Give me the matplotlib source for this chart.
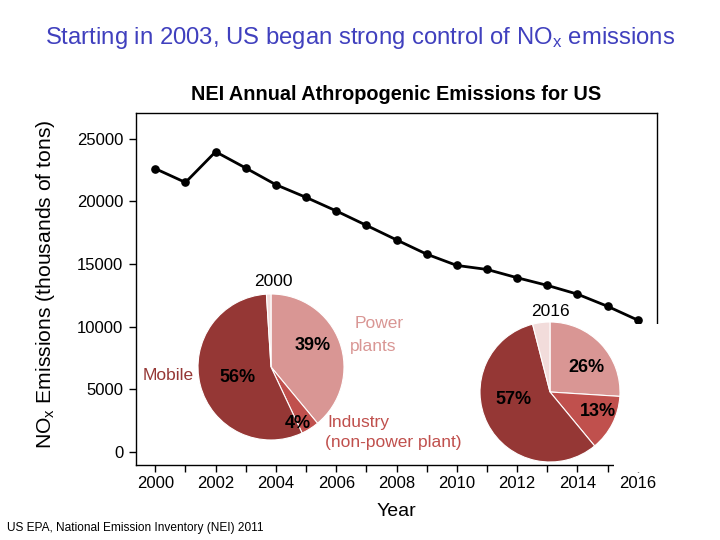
import matplotlib
matplotlib.use("Agg")
import matplotlib.pyplot as plt
from matplotlib.patches import Rectangle

plt.rcParams['font.family'] = ['Liberation Sans', 'DejaVu Sans']
plt.rcParams['mathtext.default'] = 'regular'

# ---- data ----
years = [2000, 2001, 2002, 2003, 2004, 2005, 2006, 2007, 2008,
         2009, 2010, 2011, 2012, 2013, 2014, 2015, 2016]
emissions = [22600, 21500, 23950, 22650, 21320, 20310, 19230, 18080, 16920,
             15780, 14880, 14560, 13900, 13290, 12590, 11620, 10520]
sectors = ['Power plants', 'Industry', 'Mobile', 'Other']
share_2000 = [39, 4, 56, 1]
share_2016 = [26, 13, 57, 4]
sector_colors = ['#D99694', '#C0504D', '#953735', '#F2DCDB']
y_ticks = [0, 5000, 10000, 15000, 20000, 25000]
x_label_years = [2000, 2002, 2004, 2006, 2008, 2010, 2012, 2014, 2016]

W, H = 720, 540
fig = plt.figure(figsize=(7.2, 5.4), dpi=100)


def fx(x):
    return x / W


def fy(y):
    return 1 - y / H


# ---- main axes ----
ax = fig.add_axes([fx(136), fy(465), fx(657) - fx(136), fy(113) - fy(465)])
ax.plot(years, emissions, color='black', lw=2.0, marker='o', ms=5.2, zorder=3)
ax.set_xlim(1999.36, 2016.64)
ax.set_ylim(-1040, 27040)
ax.set_yticks(y_ticks)
ax.set_yticklabels([str(v) for v in y_ticks])
ax.set_xticks(years)
ax.set_xticklabels([str(y) if y in x_label_years else '' for y in years])
ax.tick_params(axis='both', direction='out', length=5, width=1, labelsize=12,
               color='black')
ax.tick_params(axis='x', pad=3)
ax.tick_params(axis='y', pad=4)
for s in ax.spines.values():
    s.set_linewidth(1.0)
    s.set_color('black')
ax.set_ylabel('NO$_x$ Emissions (thousands of tons)', fontsize=15.2)
ax.yaxis.set_label_coords(-0.152, 0.514)

# white cover behind the 2016 pie (as in the reference image)
fig.patches.append(Rectangle((fx(614), fy(472)), fx(700) - fx(614), fy(324) - fy(472),
                             transform=fig.transFigure, facecolor='white',
                             edgecolor='none', zorder=2))

# ---- titles / texts ----
fig.text(fx(360), fy(38), 'Starting in 2003, US began strong control of NO$_x$ emissions',
         ha='center', va='center', fontsize=17.2, color='#4040BE')
fig.text(fx(396), fy(94), 'NEI Annual Athropogenic Emissions for US',
         ha='center', va='center', fontsize=14.3, fontweight='bold', color='black')
fig.text(fx(396), fy(512), 'Year', ha='center', va='center', fontsize=14)
fig.text(fx(7), fy(528), 'US EPA, National Emission Inventory (NEI) 2011',
         ha='left', va='center', fontsize=8.6)


# ---- pies ----
def draw_pie(cx, cy, r, shares):
    pax = fig.add_axes([fx(cx - r), fy(cy + r), fx(2 * r), fy(cy - r) - fy(cy + r)])
    pax.set_zorder(3)
    pax.pie(shares, colors=sector_colors, startangle=90, counterclock=False,
            wedgeprops=dict(edgecolor='white', linewidth=0.8))
    pax.set_xlim(-1.0, 1.0)
    pax.set_ylim(-1.0, 1.0)
    pax.set_aspect('equal')
    pax.axis('off')
    return pax


draw_pie(271, 367, 73, share_2000)
draw_pie(550, 392, 70, share_2016)

lab = dict(ha='center', va='center', fontsize=12.5)
pct = dict(ha='center', va='center', fontsize=13, fontweight='bold', color='black',
           zorder=5)

fig.text(fx(273), fy(281), '2000', **lab)
fig.text(fx(313), fy(346), f'{share_2000[0]}%', **pct)
fig.text(fx(298), fy(423), f'{share_2000[1]}%', **pct)
fig.text(fx(237), fy(377), f'{share_2000[2]}%', **pct)

fig.text(fx(550), fy(311), '2016', **lab)
fig.text(fx(586), fy(368), f'{share_2016[0]}%', **pct)
fig.text(fx(598), fy(411), f'{share_2016[1]}%', **pct)
fig.text(fx(514), fy(400), f'{share_2016[2]}%', **pct)

fig.text(fx(168), fy(376), 'Mobile', color=sector_colors[2], **lab)
fig.text(fx(355), fy(324), 'Power', color=sector_colors[0], ha='left',
         va='center', fontsize=12.5)
fig.text(fx(350), fy(346), 'plants', color=sector_colors[0], ha='left',
         va='center', fontsize=12.5)
fig.text(fx(327), fy(422), 'Industry', color=sector_colors[1], ha='left',
         va='center', fontsize=12.5)
fig.text(fx(325), fy(442), '(non-power plant)', color=sector_colors[1], ha='left',
         va='center', fontsize=12.5)

fig.savefig('out.png', dpi=100)
